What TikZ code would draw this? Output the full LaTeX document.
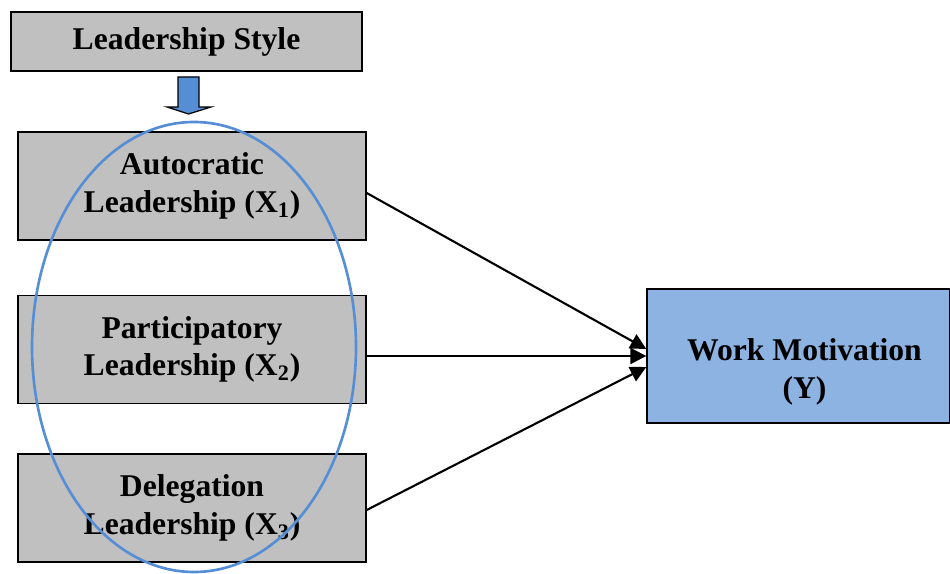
\documentclass[tikz,border=0pt]{standalone}
\usepackage{fontspec}
\setmainfont{Liberation Serif}
\usetikzlibrary{positioning,calc,arrows.meta}

\definecolor{boxgrey}{HTML}{C0C0C0}
\definecolor{motblue}{HTML}{8DB3E2}
\definecolor{ringblue}{HTML}{558ED5}

\begin{document}
\begin{tikzpicture}[
				factor/.style={rectangle, draw=black, fill=boxgrey, line width=0.8pt, minimum width=6.96cm, minimum height=2.16cm, align=center, font=\fontsize{18}{21.5}\selectfont\bfseries},
				header/.style={factor, minimum width=7.02cm, minimum height=1.18cm},
				outcome/.style={factor, fill=motblue, minimum width=6.06cm, minimum height=2.68cm},
				caption/.style={align=center, font=\fontsize{18}{21.5}\selectfont\bfseries}
			]
			\useasboundingbox (0,0) rectangle (19,11.46);
			\node[header] (style) at (3.73,10.63) {\raisebox{-0.1cm}{Leadership Style}};
			\node[factor] (auto) at (3.84,7.74) {Autocratic\\Leadership (X\textsubscript{1})};
			\node[factor] (part) at (3.84,4.47) {Participatory\\Leadership (X\textsubscript{2})};
			\node[factor] (dele) at (3.84,1.30) {Delegation\\Leadership (X\textsubscript{3})};
			\node[outcome] (motiv) at (15.97,4.34) {};
			\node[caption] (motivtext) at ([xshift=0.12cm,yshift=-0.32cm]motiv.center) {Work Motivation\\(Y)};
			% block arrow under the header
			\filldraw[fill=ringblue, draw=black, line width=0.7pt] (3.56,9.92) -- (3.98,9.92) -- (3.98,9.32) -- (4.22,9.32) -- (3.77,9.18) -- (3.34,9.32) -- (3.56,9.32) -- cycle;
			\draw[ringblue, line width=1.5pt] (3.88,4.52) ellipse [x radius=3.24cm, y radius=4.5cm];
			\begin{scope}[line width=1.2pt, -{Triangle[length=9pt,width=9pt]}]
			\draw ([yshift=-0.14cm]auto.east) -- ([yshift=0.14cm]motiv.west);
			\draw (part.east |- motiv.west) -- (motiv.west);
			\draw ([yshift=-0.04cm]dele.east) -- ([yshift=-0.22cm]motiv.west);
			\end{scope}
			\end{tikzpicture}
\end{document}
